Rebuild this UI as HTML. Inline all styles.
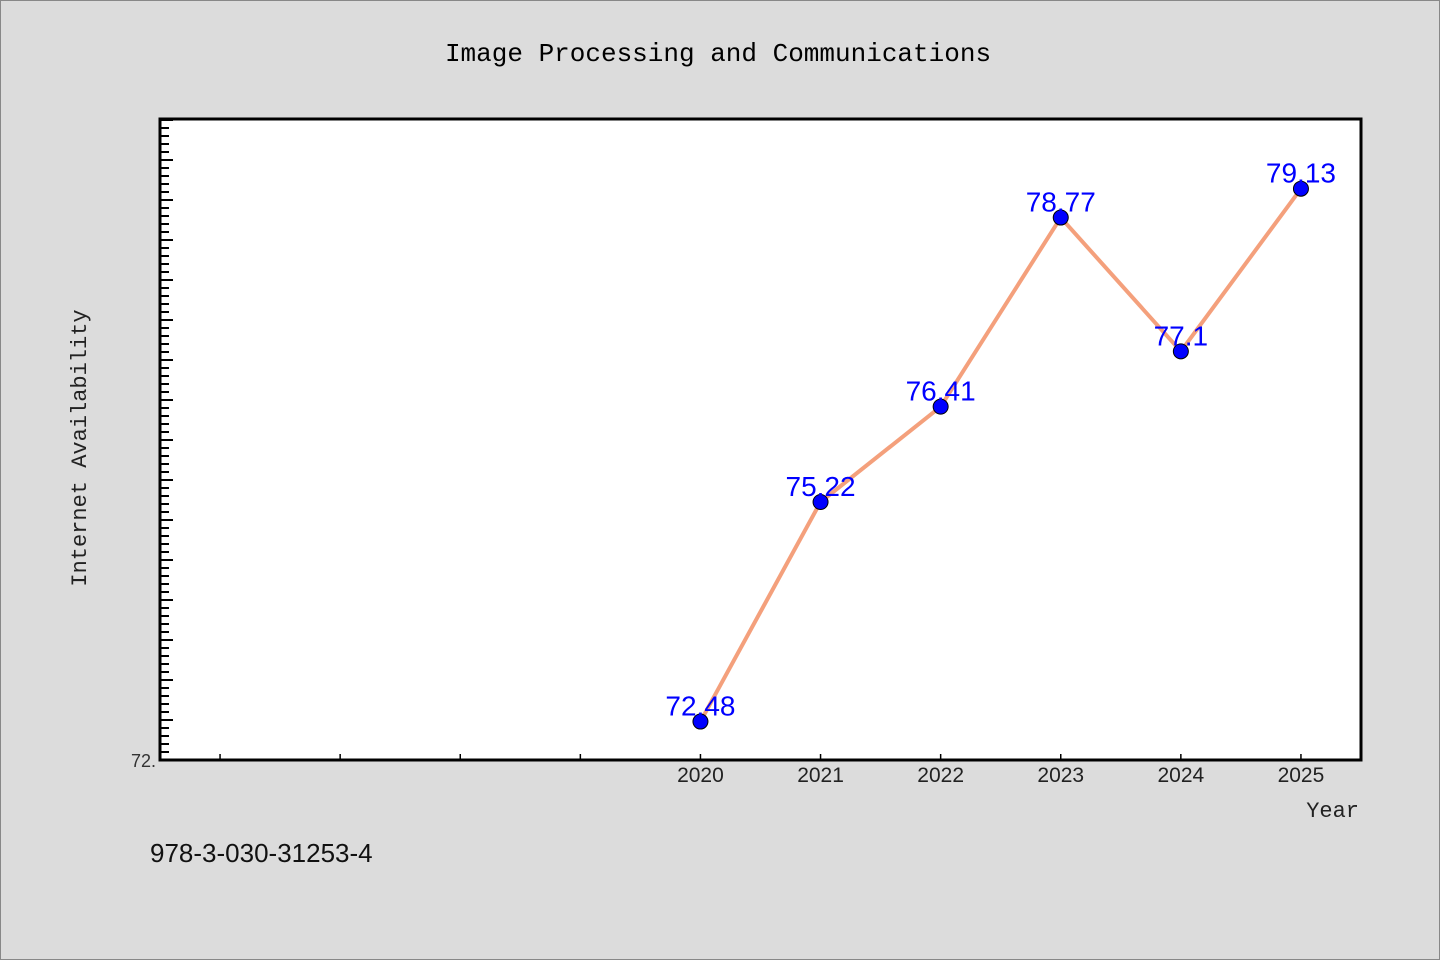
<!DOCTYPE html>
<html><head><meta charset="utf-8"><style>
body{margin:0;background:#dcdcdc;}
svg{display:block;font-family:"Liberation Mono","DejaVu Sans Mono",monospace;}
</style></head><body>
<svg id="c" width="1440" height="960">
<rect x="0.5" y="0.5" width="1439" height="959" fill="#dcdcdc" stroke="#888"/>
<text x="718" y="61" font-size="26" text-anchor="middle" fill="#000">Image Processing and Communications</text>
<rect x="160" y="119" width="1201" height="641" fill="#fff"/>
<g id="ticks"></g>
<g id="marks"></g>
<rect x="160" y="119" width="1201" height="641" fill="none" stroke="#000" stroke-width="3"/>
<text x="86" y="448" font-size="22" text-anchor="middle" transform="rotate(-90 86 448)" fill="#222">Internet Availability</text>
<text x="1359" y="817" font-size="22" text-anchor="end" fill="#222">Year</text>
<text x="150" y="862" font-size="26" fill="#111" font-family="Liberation Sans, sans-serif">978-3-030-31253-4</text>
<text x="156" y="767" font-size="18" text-anchor="end" fill="#333" font-family="Liberation Sans, sans-serif">72.</text>
</svg>
<script>
const years=[2020,2021,2022,2023,2024,2025];
const values=[72.48,75.22,76.41,78.77,77.1,79.13];
const labels=["72.48","75.22","76.41","78.77","77.1","79.13"];
const NS="http://www.w3.org/2000/svg";
const L=160,R=1361,T=119,B=760,X0=2015.5,X1=2025.5,Y0=72,Y1=80;
const xs=v=>L+(v-X0)/(X1-X0)*(R-L);
const ys=v=>B-(v-Y0)/(Y1-Y0)*(B-T);
function mk(t,a,p){const e=document.createElementNS(NS,t);for(const k in a)e.setAttribute(k,a[k]);p.appendChild(e);return e;}
const tk=document.getElementById('ticks'),mg=document.getElementById('marks');
for(let i=1;i*8<B-T;i++){const y=B-i*8;const l=mk('line',{x1:L,x2:L+(i%5==0?13:9),y1:y,y2:y,stroke:'#000','stroke-width':2},tk);

}
for(let yr=2016;yr<=2025;yr++){const x=xs(yr);const l=mk('line',{x1:x,x2:x,y1:B,y2:B-6,stroke:'#000','stroke-width':1.5},tk);

}
years.forEach(y=>{const t=mk('text',{x:xs(y),y:782,'font-size':21,'text-anchor':'middle',fill:'#222','font-family':'Liberation Sans, sans-serif'},tk);t.textContent=y;

});
const pl=mk('polyline',{points:years.map((y,i)=>xs(y)+','+ys(values[i])).join(' '),fill:'none',stroke:'#f4a07c','stroke-width':4},mg);


years.forEach((y,i)=>{const c=mk('circle',{cx:xs(y),cy:ys(values[i]),r:7.5,fill:'#0000ff',stroke:'#000','stroke-width':1},mg);


const t=mk('text',{x:xs(y),y:ys(values[i])-6,'font-size':28,'text-anchor':'middle',fill:'#0000ff','font-family':'Liberation Sans, sans-serif'},mg);t.textContent=labels[i];

});
</script>
</body></html>
